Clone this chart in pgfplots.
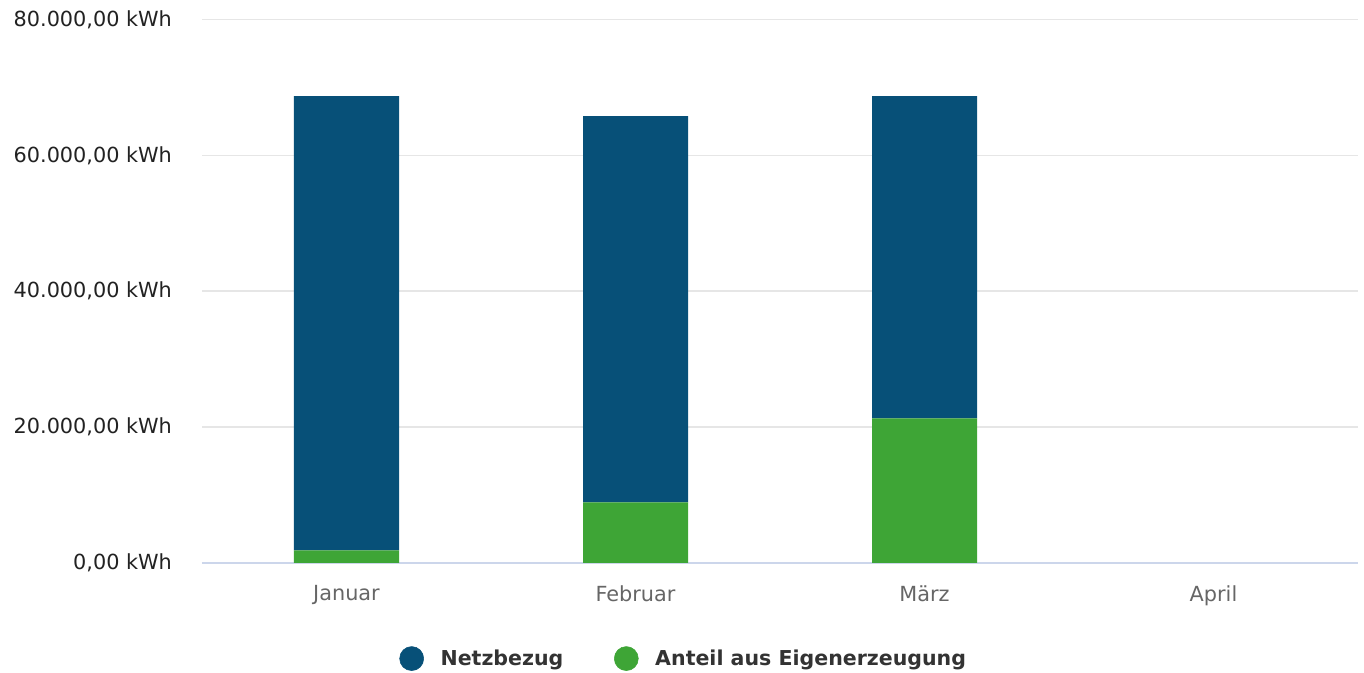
\documentclass[border=0pt]{standalone}
\usepackage{fontspec}
\setmainfont{DejaVu Sans}
\usepackage{pgfplots}
\pgfplotsset{compat=1.18}
\definecolor{netz}{RGB}{7,80,120}
\definecolor{eigen}{RGB}{62,165,54}
\definecolor{gridc}{RGB}{230,230,230}
\definecolor{axc}{RGB}{204,214,235}
\definecolor{ylab}{RGB}{34,34,34}
\definecolor{xlab}{RGB}{102,102,102}
\definecolor{legt}{RGB}{51,51,51}
\begin{document}
\begin{tikzpicture}
\begin{axis}[
  name=ax, at={(0,0)}, anchor=south west,
  scale only axis, width=867pt, height=407.6pt,
  xmin=-0.5, xmax=3.5, ymin=0, ymax=80000,
  scaled y ticks=false,
  ybar stacked, bar width=78.75pt,
  xtick={0,1,2,3}, xticklabels={Januar,Februar,März,April},
  ytick={0,20000,40000,60000,80000},
  yticklabels={{0,00 kWh},{20.000,00 kWh},{40.000,00 kWh},{60.000,00 kWh},{80.000,00 kWh}},
  major tick length=0pt,
  tick style={draw=none},
  ymajorgrids, grid style={gridc, line width=1.1pt},
  axis x line*=bottom, axis y line*=left,
  x axis line style={-, draw=axc, line width=1.5pt},
  y axis line style={draw=none},
  xticklabel style={font=\fontsize{15.6pt}{18pt}\selectfont, text=xlab, yshift=-13.5pt},
  yticklabel style={font=\fontsize{15.6pt}{18pt}\selectfont, text=ylab, xshift=-19pt},
  legend style={at={(0.4170,-0.176)}, anchor=center, draw=none, fill=none,
    font=\bfseries\fontsize{15.4pt}{18pt}\selectfont, text=legt,
    legend columns=2, column sep=10.5pt,
    /tikz/every even column/.append style={column sep=36pt},
    inner sep=0pt},
  legend cell align=left,
]
\addlegendimage{area legend, legend image code/.code={\fill[netz] (9pt,0pt) circle (9pt);}}
\addlegendentry{Netzbezug}
\addlegendimage{area legend, legend image code/.code={\fill[eigen] (9pt,0pt) circle (9pt);}}
\addlegendentry{Anteil aus Eigenerzeugung}
\addplot[fill=eigen, draw=none, forget plot] coordinates {(0,1840) (1,8910) (2,21280)};
\addplot[fill=netz, draw=none, forget plot] coordinates {(0,66860) (1,56850) (2,47420)};
\end{axis}
\pgfresetboundingbox
\path[use as bounding box] ([xshift=-151.5pt,yshift=-82.5pt]ax.south west) rectangle ([xshift=4.5pt,yshift=14.6pt]ax.north east);
\end{tikzpicture}
\end{document}
